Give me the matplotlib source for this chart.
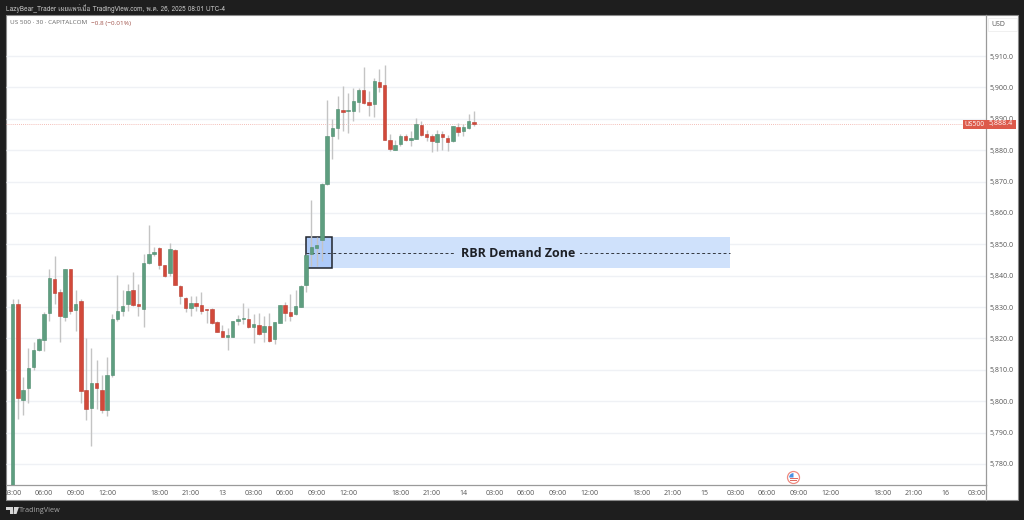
import matplotlib
matplotlib.use("Agg")
import matplotlib.pyplot as plt
from matplotlib import font_manager
from matplotlib.patches import Rectangle, Circle, Polygon, Wedge
from matplotlib.transforms import Affine2D
import numpy as np

# 30 min candles
opens = [5770, 5830.9, 5800.5, 5804.1, 5811, 5816.3, 5819.6, 5828, 5838.8, 5834.8,
         5826.7, 5842, 5829.1, 5831.9, 5803.6, 5797.9, 5805.9, 5803.7, 5797.1, 5808.2,
         5826.1, 5828.6, 5830.9, 5835.3, 5831, 5829.5, 5843.9, 5847, 5848.9, 5843.3,
         5840.9, 5848.3, 5836.8, 5833, 5829.8, 5831.3, 5830.5, 5829.3, 5829.4, 5825.2,
         5822.3, 5820.4, 5820.6, 5825.7, 5826.1, 5826.2, 5823.7, 5824.3, 5822.1, 5824,
         5819.7, 5824.9, 5830.7, 5828.5, 5827.8, 5830.1, 5837, 5847, 5848.8, 5851.3,
         5869.2, 5884.6, 5887.1, 5892.8, 5892.4, 5892.4, 5895.4, 5899.1, 5895.4, 5894.6,
         5901.8, 5900.7, 5883.1, 5880, 5882, 5884.6, 5883.3, 5883.7, 5888, 5885.1,
         5884.6, 5882.7, 5885.1, 5884, 5882.9, 5887.3, 5886.2, 5887, 5888.9]
closes = [5830.9, 5801, 5803.7, 5810.7, 5816.3, 5819.7, 5827.9, 5839.3, 5834.5, 5827,
          5842.2, 5828.8, 5830.9, 5803.1, 5797.6, 5805.7, 5804.1, 5797.1, 5808.4, 5826.3,
          5828.8, 5830.3, 5835, 5830.6, 5830.3, 5844.1, 5846.9, 5847.7, 5843.3, 5840,
          5848.5, 5837.1, 5833.4, 5829.6, 5831.3, 5830.2, 5828.9, 5829.1, 5824.9, 5822.2,
          5820.6, 5821.1, 5825.5, 5826.2, 5826.4, 5823.6, 5824.7, 5821.5, 5824, 5819.3,
          5825.3, 5830.5, 5828.2, 5827.2, 5830.3, 5836.7, 5846.6, 5849.1, 5849.9, 5869.2,
          5884.6, 5887.1, 5893.1, 5892.2, 5892.8, 5895.7, 5899.1, 5895, 5894.4, 5902,
          5900.2, 5883.3, 5880.3, 5881.8, 5884.6, 5883.3, 5884, 5888.2, 5884.8, 5884.3,
          5882.9, 5885.1, 5884.1, 5882.7, 5887.7, 5885.9, 5887.3, 5889.3, 5888.4]
highs = [5832.7, 5832.7, 5807.7, 5817, 5819, 5820.2, 5828.4, 5842.2, 5846.3, 5835.9,
         5842.2, 5842.2, 5835.3, 5832.7, 5820.2, 5817, 5813, 5808.5, 5814, 5827.7,
         5840.1, 5835.5, 5837.2, 5841.2, 5837.4, 5847, 5856.1, 5849, 5849.1, 5843.3,
         5850.4, 5848.5, 5837.1, 5833.2, 5833.4, 5833.6, 5834.9, 5829.4, 5829.8, 5825.7,
         5824.4, 5823.3, 5825.7, 5827.4, 5831.3, 5829.8, 5827.9, 5828.1, 5827.2, 5828.1,
         5825.3, 5830.7, 5831.6, 5834.3, 5835.5, 5837.1, 5846.8, 5864, 5852.3, 5869.5,
         5896, 5889.9, 5897.3, 5900.4, 5898.1, 5899.7, 5899.7, 5906.6, 5898.8, 5902.9,
         5905.9, 5907.1, 5885.3, 5883.2, 5885, 5885.3, 5886, 5890.1, 5889.3, 5886.4,
         5885, 5886.4, 5886, 5884.8, 5887.8, 5888.5, 5888.2, 5891.6, 5892.4]
lows = [5770, 5794.4, 5795.7, 5799.4, 5809.8, 5815.9, 5816, 5825.5, 5831, 5818.8,
        5825.7, 5827.7, 5822.3, 5799.4, 5794, 5785.6, 5797.6, 5796.2, 5795.2, 5807.7,
        5825.5, 5827.2, 5828.7, 5830.3, 5827.2, 5823.6, 5843.6, 5846.2, 5842.2, 5839.6,
        5840, 5836.9, 5831, 5828.3, 5827.2, 5828.9, 5827.9, 5824.9, 5824.5, 5822,
        5820.4, 5816.4, 5820.4, 5824.4, 5824.7, 5823.2, 5818.5, 5821.2, 5818.9, 5818.9,
        5818.3, 5824.9, 5825.7, 5825.7, 5827.4, 5830, 5834.7, 5843, 5843, 5844.6,
        5869, 5877.1, 5883.7, 5886, 5885.5, 5889.3, 5892.2, 5894.8, 5891, 5890.6,
        5898.4, 5883.1, 5879.7, 5879.9, 5881.2, 5883, 5881.4, 5883.5, 5884.4, 5882.9,
        5879.5, 5879.7, 5880.1, 5879.7, 5882.7, 5884.4, 5884.4, 5886.7, 5887.6]

price_ticks = [5780, 5790, 5800, 5810, 5820, 5830, 5840, 5850, 5860, 5870, 5880, 5890, 5900, 5910]
time_pos = [0, 6, 12, 18, 28, 34, 40, 46, 52, 58, 64, 74, 80, 86, 92, 98, 104, 110, 120,
            126, 132, 138, 144, 150, 156, 166, 172, 178, 184]
time_labels = ["03:00", "06:00", "09:00", "12:00", "18:00", "21:00", "13", "03:00", "06:00",
               "09:00", "12:00", "18:00", "21:00", "14", "03:00", "06:00", "09:00", "12:00",
               "18:00", "21:00", "15", "03:00", "06:00", "09:00", "12:00", "18:00", "21:00",
               "16", "03:00"]
last_price = 5888.4
zone_top = 5852.2
zone_mid = 5847.1
zone_bottom = 5842.3

GREEN = "#5e9e80"
GREEN_EDGE = "#4c8a6c"
RED = "#d2493a"
RED_EDGE = "#b93c30"
WICK = "#c4c4c4"
DARK = "#1e1e1e"
plt.rcParams["font.family"] = ["Open Sans", "DejaVu Sans"]

# header has Thai in it, use whatever installed font carries those letters
thai_fonts = []
for f in font_manager.fontManager.ttflist:
    try:
        if 0x0E1C in font_manager.get_font(f.fname).get_charmap() and f.name not in thai_fonts:
            thai_fonts.append(f.name)
    except Exception:
        pass

fig = plt.figure(figsize=(10.24, 5.2), dpi=100, facecolor=DARK)
px = Affine2D().scale(1, -1).translate(0, 520)  # picture pixels, y going down

fig.add_artist(Rectangle((6, 15), 1012, 485, transform=px, fc="white", ec="#8a8a8a", lw=0.8, zorder=-1))

ax = fig.add_axes([6 / 1024, 1 - 485 / 520, (985.7 - 6) / 1024, (485 - 15) / 520])
ax.patch.set_alpha(0)
ax.set_xlim(-1.28, 185.7)
ax.set_ylim(5773.3, 5923.07)
ax.grid(axis="y", color="#eff1f5", linewidth=1, solid_capstyle="butt")
ax.set_axisbelow(True)
for s in ["top", "left"]:
    ax.spines[s].set_visible(False)
for s in ["right", "bottom"]:
    ax.spines[s].set_color("#9a9a9a")
    ax.spines[s].set_linewidth(0.9)

ax.yaxis.tick_right()
ax.set_yticks(price_ticks)
ax.set_yticklabels([f"{p:,.1f}" for p in price_ticks])
ax.tick_params(axis="y", length=0, pad=3, labelsize=5, labelcolor="#555555")
ax.set_xticks(time_pos)
ax.set_xticklabels(time_labels)
ax.tick_params(axis="x", length=0, pad=3.5, labelsize=5, labelcolor="#555555")

# demand zone
ax.add_patch(Rectangle((55.9, zone_bottom), 136.9 - 55.9, zone_top - zone_bottom, fc="#cfe1fb", ec="none", zorder=1))
ax.add_patch(Rectangle((55.9, zone_bottom), 61 - 55.9, zone_top - zone_bottom, fc="#aecbfa", ec="#20242c", lw=1.1, zorder=1.5))
ax.plot([55.9, 136.9], [zone_mid, zone_mid], color="#33373f", lw=0.7, ls=(0, (3, 2.5)), zorder=1.6)
ax.text(96.5, zone_mid, "RBR Demand Zone", ha="center", va="center", fontsize=9, fontweight="bold",
        color="#1d2026", zorder=1.7, bbox=dict(fc="#cfe1fb", ec="none", pad=3.5))

# candles
x = np.arange(len(opens))
o = np.array(opens)
c = np.array(closes)
up = c >= o
ax.vlines(x, lows, highs, color=WICK, lw=1, zorder=2)
ax.bar(x[up], (c - o)[up], bottom=o[up], width=0.66, color=GREEN, edgecolor=GREEN_EDGE, lw=0.4, zorder=3)
ax.bar(x[~up], (o - c)[~up], bottom=c[~up], width=0.66, color=RED, edgecolor=RED_EDGE, lw=0.4, zorder=3)

# last price line and tags
ax.axhline(last_price, color="#f0a8a0", lw=0.6, ls=(0, (1, 1.5)), zorder=1.8)
fig.add_artist(Rectangle((963, 119.5), 53, 9, transform=px, fc="#dd5a4b", ec="none", zorder=4))
fig.text(974 / 1024, 1 - 124 / 520, "US500", color="white", fontsize=4.8, ha="center", va="center", zorder=5)
fig.text(1000.5 / 1024, 1 - 124 / 520, f"{last_price:,.1f}", color="white", fontsize=5, ha="center", va="center", zorder=5)
fig.add_artist(Rectangle((987.5, 17.5), 29, 13.5, transform=px, fc="white", ec="#eeeeee", lw=0.6, zorder=4))
fig.text(998 / 1024, 1 - 25 / 520, "USD", color="#555555", fontsize=5, ha="center", va="center", zorder=5)

# axis line runs down to the panel edge
fig.add_artist(plt.Line2D([985.7, 985.7], [485, 500], transform=px, color="#9a9a9a", lw=0.9, zorder=4))
fig.add_artist(Rectangle((0, 485), 6, 20, transform=px, fc=DARK, ec="none", zorder=6))

# header texts
fig.text(6 / 1024, 1 - 8.5 / 520, "LazyBear_Trader เผยแพร่เมื่อ TradingView.com, พ.ค. 26, 2025 08:01 UTC-4",
         color="#c8c8c8", fontsize=4.65, ha="left", va="center",
         family=thai_fonts + ["Noto Sans", "DejaVu Sans"])
fig.text(10 / 1024, 1 - 23 / 520, "US 500 · 30 · CAPITALCOM", color="#666666", fontsize=4.6, ha="left", va="center")
fig.text(91 / 1024, 1 - 23 / 520, "−0.8 (−0.01%)", color="#a0524a", fontsize=4.6, ha="left", va="center")

# TradingView mark
fig.add_artist(Polygon([(6, 507), (13, 507), (13, 514), (10, 514), (10, 510), (6, 510)], transform=px, fc="#d8d8d8", ec="none"))
fig.add_artist(Polygon([(14, 507), (19, 507), (16.5, 514), (13.5, 514)], transform=px, fc="#d8d8d8", ec="none"))
fig.text(19 / 1024, 1 - 510.5 / 520, "TradingView", color="#a8a8a8", fontsize=5.2, ha="left", va="center")

# US flag event marker
fig.add_artist(Circle((793.5, 477.5), 6, transform=px, fc="white", ec="#ee8a80", lw=0.9, zorder=3))
fig.add_artist(Wedge((793.5, 477.5), 4.4, 180, 270, transform=px, fc="#4a90e2", ec="none", zorder=3.1))
fig.add_artist(Rectangle((789.5, 477.5), 8, 1, transform=px, fc="#e06a60", ec="none", zorder=3.1))
fig.add_artist(Rectangle((790, 480), 7, 1, transform=px, fc="#e06a60", ec="none", zorder=3.1))

fig.savefig("out.png", dpi=100, facecolor=DARK)
